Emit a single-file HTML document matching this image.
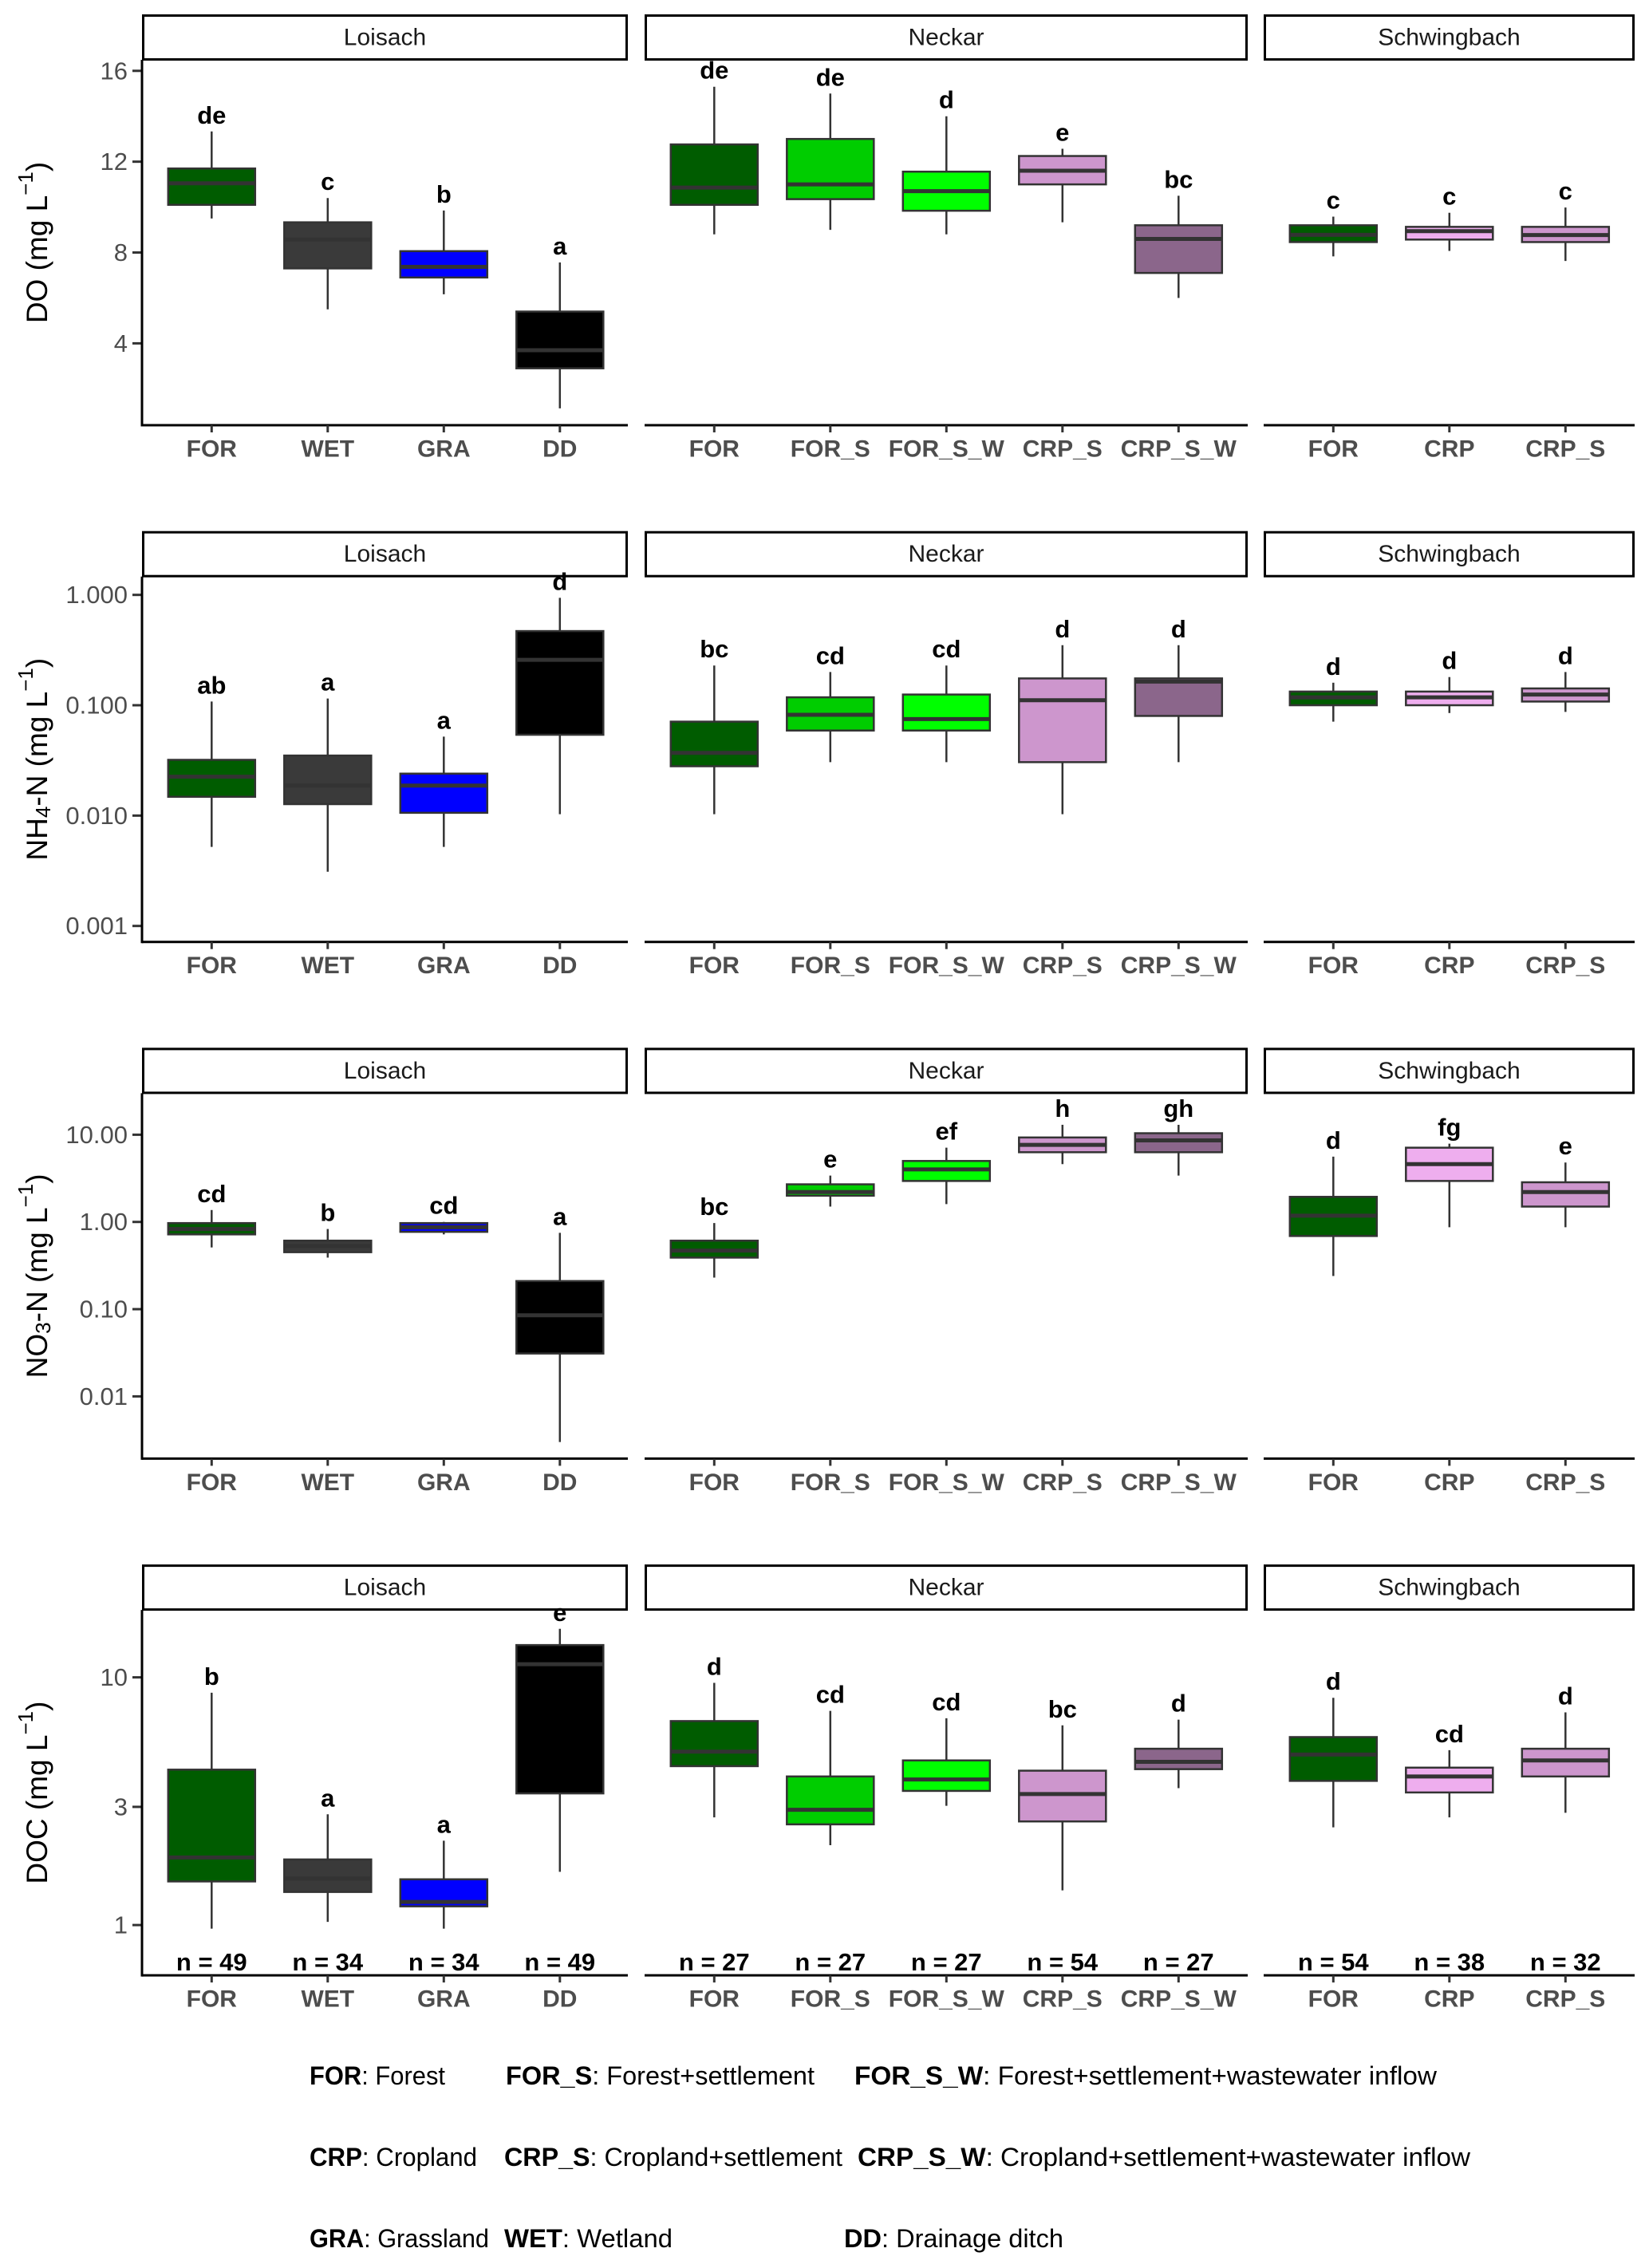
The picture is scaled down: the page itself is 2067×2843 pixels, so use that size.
<!DOCTYPE html>
<html><head><meta charset="utf-8"><style>
html,body{margin:0;padding:0;background:#fff;}
svg{display:block;}
</style></head><body>
<svg id="chart" xmlns="http://www.w3.org/2000/svg" width="2067" height="2843" viewBox="0 0 2067 2843"></svg>
<script>
// ---- data ----
const facets = ["Loisach", "Neckar", "Schwingbach"];
const facetCats = [["FOR","WET","GRA","DD"],["FOR","FOR_S","FOR_S_W","CRP_S","CRP_S_W"],["FOR","CRP","CRP_S"]];
const sampleN = ["n = 49","n = 34","n = 34","n = 49","n = 27","n = 27","n = 27","n = 54","n = 27","n = 54","n = 38","n = 32"];

const doLow  = [9.5,5.5,6.16,1.14, 8.8,9.0,8.8,9.33,6.0, 7.83,8.07,7.63];
const doQ1   = [10.1,7.3,6.9,2.9, 10.1,10.35,9.84,11.0,7.1, 8.46,8.57,8.46];
const doMed  = [11.05,8.57,7.37,3.7, 10.86,11.0,10.7,11.6,8.6, 8.78,8.94,8.77];
const doQ3   = [11.7,9.33,8.06,5.4, 12.76,13.0,11.56,12.25,9.2, 9.2,9.13,9.13];
const doHigh = [13.33,10.4,9.85,7.56, 15.3,15.0,14.0,12.57,10.5, 9.58,9.75,9.98];
const doLetters = ["de","c","b","a","de","de","d","e","bc","c","c","c"];

const nhLow  = [0.0052,0.0031,0.0052,0.0103, 0.0103,0.0305,0.0305,0.0103,0.0305, 0.071,0.085,0.087];
const nhQ1   = [0.0148,0.0127,0.0106,0.054, 0.028,0.059,0.059,0.0305,0.08, 0.1,0.1,0.108];
const nhMed  = [0.0225,0.0187,0.0187,0.258, 0.037,0.082,0.075,0.111,0.164, 0.118,0.118,0.125];
const nhQ3   = [0.032,0.035,0.024,0.47, 0.071,0.118,0.125,0.175,0.175, 0.133,0.133,0.142];
const nhHigh = [0.108,0.115,0.052,0.94, 0.229,0.2,0.229,0.35,0.35, 0.16,0.18,0.2];
const nhLetters = ["ab","a","a","d","bc","cd","cd","d","d","d","d","d"];

const noLow  = [0.51,0.39,0.72,0.003, 0.23,1.5,1.6,4.6,3.4, 0.24,0.87,0.87];
const noQ1   = [0.72,0.45,0.77,0.031, 0.39,2.0,2.95,6.3,6.3, 0.69,2.95,1.5];
const noMed  = [0.83,0.53,0.87,0.085, 0.47,2.2,4.0,7.65,8.6, 1.18,4.6,2.2];
const noQ3   = [0.97,0.61,0.97,0.21, 0.61,2.7,5.0,9.3,10.4, 1.94,7.1,2.85];
const noHigh = [1.37,0.83,1.0,0.75, 0.97,3.4,7.1,13,13, 5.6,7.9,4.8];
const noLetters = ["cd","b","cd","a","bc","e","ef","h","gh","d","fg","e"];

const docLow  = [0.967,1.03,0.967,1.64, 2.72,2.1,3.03,1.38,3.57, 2.48,2.72,2.84];
const docQ1   = [1.5,1.36,1.19,3.4, 4.38,2.55,3.48,2.62,4.26, 3.82,3.43,3.98];
const docMed  = [1.875,1.54,1.24,11.3, 5.01,2.92,3.87,3.38,4.56, 4.88,3.98,4.62];
const docQ3   = [4.24,1.84,1.53,13.5, 6.66,3.98,4.62,4.2,5.15, 5.74,4.32,5.15];
const docHigh = [8.67,2.8,2.19,15.7, 9.5,7.32,6.84,6.4,6.75, 8.27,5.08,7.22];
const docLetters = ["b","a","a","e","d","cd","cd","bc","d","d","cd","d"];

const doTicks = [16,12,8,4];
const doTickLabels = ["16","12","8","4"];
const nhTicks = [1,0.1,0.01,0.001];
const nhTickLabels = ["1.000","0.100","0.010","0.001"];
const noTicks = [10,1,0.1,0.01];
const noTickLabels = ["10.00","1.00","0.10","0.01"];
const docTicks = [10,3,1];
const docTickLabels = ["10","3","1"];

const legendTerms = ["FOR","FOR_S","FOR_S_W","CRP","CRP_S","CRP_S_W","GRA","WET","DD"];
const legendDescs = ["Forest","Forest+settlement","Forest+settlement+wastewater inflow","Cropland","Cropland+settlement","Cropland+settlement+wastewater inflow","Grassland","Wetland","Drainage ditch"];

// ---- style/layout ----
const colors = {FOR:"#005c00",WET:"#3a3a3a",GRA:"#0000ff",DD:"#000000",FOR_S:"#00cd00",FOR_S_W:"#00ff00",CRP_S:"#cd96cd",CRP_S_W:"#8b668b",CRP:"#eeaeee"};
const NS = "http://www.w3.org/2000/svg";
const svg = document.getElementById("chart");
const panelX = [[178,787],[808,1564],[1584,2049]];
const unit = 145.5;
const rowStride = 647.7;
const narrow = '"Liberation Sans Narrow","Liberation Sans",sans-serif';

function el(tag, attrs, parent) {
  const e = document.createElementNS(NS, tag);
  for (const k in attrs) e.setAttribute(k, attrs[k]);
  (parent || svg).appendChild(e);
  return e;
}
function linScale(v1, p1, v2, p2) { return v => p1 + (v - v1) * (p2 - p1) / (v2 - v1); }
function logScale(v1, p1, v2, p2) { const l1 = Math.log10(v1), l2 = Math.log10(v2); return v => p1 + (Math.log10(v) - l1) * (p2 - p1) / (l2 - l1); }

const rows = [
  {key:"do", title:["DO (mg L","−1",")"], sub:null, low:doLow,q1:doQ1,med:doMed,q3:doQ3,high:doHigh,letters:doLetters,ticks:doTicks,tickLabels:doTickLabels,scale:linScale(16,88.8,4,430.4)},
  {key:"nh4", title:["NH","4","-N (mg L","−1",")"], sub:true, low:nhLow,q1:nhQ1,med:nhMed,q3:nhQ3,high:nhHigh,letters:nhLetters,ticks:nhTicks,tickLabels:nhTickLabels,scale:logScale(1,98,0.001,513)},
  {key:"no3", title:["NO","3","-N (mg L","−1",")"], sub:true, low:noLow,q1:noQ1,med:noMed,q3:noQ3,high:noHigh,letters:noLetters,ticks:noTicks,tickLabels:noTickLabels,scale:logScale(10,127,0.01,455)},
  {key:"doc", title:["DOC (mg L","−1",")"], sub:null, low:docLow,q1:docQ1,med:docMed,q3:docQ3,high:docHigh,letters:docLetters,ticks:docTicks,tickLabels:docTickLabels,scale:logScale(10,159.5,1,470)}
];

rows.forEach((row, r) => {
  const oy = r * rowStride;
  const g = el("g", {transform:`translate(0,${oy})`});
  
  
  const y = row.scale;
  // y-axis title
  const tx = 46, ty = 304;
  const t = el("text", {x:tx, y:ty, transform:`rotate(-90 ${tx} ${ty})`, "text-anchor":"middle", "dominant-baseline":"central", "font-family":'"Liberation Sans",sans-serif', "font-size":"37", fill:"#000"}, g);
  
  
  if (row.sub) {
    el("tspan", {}, t).textContent = row.title[0];
    el("tspan", {"font-size":"26", dy:"8"}, t).textContent = row.title[1];
    el("tspan", {dy:"-8"}, t).textContent = row.title[2];
    el("tspan", {"font-size":"26", dy:"-14"}, t).textContent = row.title[3];
    el("tspan", {dy:"14"}, t).textContent = row.title[4];
  } else {
    el("tspan", {}, t).textContent = row.title[0];
    el("tspan", {"font-size":"26", dy:"-14"}, t).textContent = row.title[1];
    el("tspan", {dy:"14"}, t).textContent = row.title[2];
  }
  // y ticks
  row.ticks.forEach((tv, i) => {
    const py = y(tv);
    const tk = el("line", {x1:166, x2:178, y1:py, y2:py, stroke:"#333", "stroke-width":3}, g);
    
    
    const tl = el("text", {x:160, y:py, "text-anchor":"end", "dominant-baseline":"central", "font-family":'"Liberation Sans",sans-serif', "font-size":"31", fill:"#4d4d4d"}, g);
    
    
    tl.textContent = row.tickLabels[i];
  });
  // y axis line
  const ya = el("line", {x1:178, x2:178, y1:75, y2:534.5, stroke:"#000", "stroke-width":3}, g);
  
  

  let idx = 0;
  facets.forEach((f, fi) => {
    const [x0, x1] = panelX[fi];
    // strip
    const sr = el("rect", {x:x0+1.5, y:19.5, width:x1-x0-3, height:55, fill:"#fff", stroke:"#000", "stroke-width":3}, g);
    
    
    const st = el("text", {x:(x0+x1)/2, y:47, "text-anchor":"middle", "dominant-baseline":"central", "font-family":'"Liberation Sans",sans-serif', "font-size":"30", fill:"#1a1a1a"}, g);
    
    
    st.textContent = f;
    // x axis
    const xa = el("line", {x1:x0, x2:x1, y1:533, y2:533, stroke:"#000", "stroke-width":3}, g);
    
    
    facetCats[fi].forEach((c, ci) => {
      const cx = x0 + (0.6 + ci) * unit;
      const hw = 54.5;
      const xt = el("line", {x1:cx, x2:cx, y1:533, y2:542, stroke:"#333", "stroke-width":3}, g);
      
      
      const xl = el("text", {x:cx, y:563, "text-anchor":"middle", "dominant-baseline":"central", "font-family":'"Liberation Sans",sans-serif', "font-weight":"bold", "font-size":"30", fill:"#4d4d4d"}, g);
      
      
      xl.textContent = c;
      // whisker
      const wk = el("line", {x1:cx, x2:cx, y1:y(row.high[idx]), y2:y(row.low[idx]), stroke:"#333", "stroke-width":2.5}, g);
      
      
      const yTop = y(row.q3[idx]), yBot = y(row.q1[idx]);
      const bx = el("rect", {x:cx-hw, y:yTop, width:hw*2, height:Math.max(1, yBot-yTop), fill:colors[c], stroke:"#333", "stroke-width":2.5}, g);
      
      
      const md = el("line", {x1:cx-hw, x2:cx+hw, y1:y(row.med[idx]), y2:y(row.med[idx]), stroke:"#333", "stroke-width":5}, g);
      
      
      const lt = el("text", {x:cx, y:y(row.high[idx]) - 10, "text-anchor":"middle", "font-family":narrow, "font-weight":"bold", "font-size":"31", fill:"#000"}, g);
      
      
      lt.textContent = row.letters[idx];
      if (r === 3) {
        const nt = el("text", {x:cx, y:527, "text-anchor":"middle", "font-family":narrow, "font-weight":"bold", "font-size":"31", fill:"#000"}, g);
        
        
        nt.textContent = sampleN[idx];
      }
      idx++;
    });
  });
});

// legend
const legX = [388, 634, 1071, 388, 632, 1075, 388, 632, 1058];
const legY = [2613, 2613, 2613, 2715, 2715, 2715, 2817, 2817, 2817];
const legW = [170, 387, 730, 210, 424, 768, 225, 211, 275];
legendTerms.forEach((term, i) => {
  const lt = el("text", {x:legX[i], y:legY[i], "font-family":narrow, "font-size":"32", fill:"#000", textLength:legW[i], lengthAdjust:"spacingAndGlyphs"});
  
  
  el("tspan", {"font-weight":"bold"}, lt).textContent = term;
  el("tspan", {}, lt).textContent = ": " + legendDescs[i];
});
</script>
</body></html>
